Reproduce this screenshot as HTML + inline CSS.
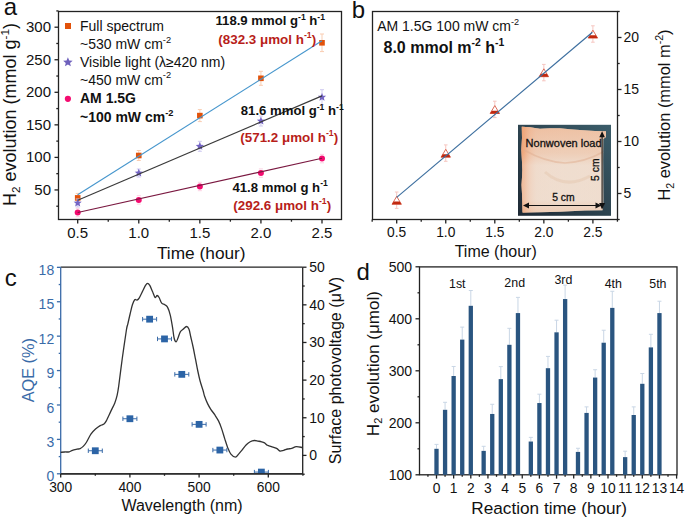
<!DOCTYPE html>
<html><head><meta charset="utf-8"><style>html,body{margin:0;padding:0;background:#fff;overflow:hidden;}svg{display:block;}text{font-family:'Liberation Sans', sans-serif;}</style></head>
<body><svg width="685" height="518" viewBox="0 0 685 518" style="font-family:'Liberation Sans', sans-serif">
<rect width="685" height="518" fill="#fff"/>
<defs>
<linearGradient id="bgd" x1="1" y1="0" x2="0" y2="1">
<stop offset="0" stop-color="#3b5d6a"/><stop offset="0.5" stop-color="#2d4450"/><stop offset="1" stop-color="#1e2934"/>
</linearGradient>
<linearGradient id="fab" x1="0" y1="0" x2="1" y2="0">
<stop offset="0" stop-color="#ec8a52" stop-opacity="1"/><stop offset="0.04" stop-color="#ef9a68" stop-opacity="0.9"/><stop offset="0.10" stop-color="#f0b08c" stop-opacity="0.55"/><stop offset="0.18" stop-color="#f0c8b0" stop-opacity="0.2"/><stop offset="0.6" stop-color="#f2dccd" stop-opacity="0.0"/><stop offset="0.93" stop-color="#f0d0bc" stop-opacity="0.15"/><stop offset="1" stop-color="#eec0a4" stop-opacity="0.4"/>
</linearGradient>
<linearGradient id="fab2" x1="0" y1="0" x2="0" y2="1">
<stop offset="0" stop-color="#efb08a" stop-opacity="0.6"/><stop offset="0.3" stop-color="#f0c0a2" stop-opacity="0.45"/><stop offset="0.45" stop-color="#f2e2d6" stop-opacity="0.5"/><stop offset="0.85" stop-color="#f1e2d6" stop-opacity="0.55"/><stop offset="1" stop-color="#eec4a8" stop-opacity="0.55"/>
</linearGradient>
</defs>
<rect x="58.5" y="11.5" width="283.0" height="208.0" fill="none" stroke="#222" stroke-width="1.3"/>
<line x1="54.5" y1="189.95" x2="58.5" y2="189.95" stroke="#222" stroke-width="1.3" />
<text x="51" y="194.95" font-size="15" text-anchor="end" font-weight="normal" fill="#111" >50</text>
<line x1="54.5" y1="157.4" x2="58.5" y2="157.4" stroke="#222" stroke-width="1.3" />
<text x="51" y="162.4" font-size="15" text-anchor="end" font-weight="normal" fill="#111" >100</text>
<line x1="54.5" y1="124.85" x2="58.5" y2="124.85" stroke="#222" stroke-width="1.3" />
<text x="51" y="129.85" font-size="15" text-anchor="end" font-weight="normal" fill="#111" >150</text>
<line x1="54.5" y1="92.3" x2="58.5" y2="92.3" stroke="#222" stroke-width="1.3" />
<text x="51" y="97.3" font-size="15" text-anchor="end" font-weight="normal" fill="#111" >200</text>
<line x1="54.5" y1="59.75" x2="58.5" y2="59.75" stroke="#222" stroke-width="1.3" />
<text x="51" y="64.75" font-size="15" text-anchor="end" font-weight="normal" fill="#111" >250</text>
<line x1="54.5" y1="27.2" x2="58.5" y2="27.2" stroke="#222" stroke-width="1.3" />
<text x="51" y="32.2" font-size="15" text-anchor="end" font-weight="normal" fill="#111" >300</text>
<line x1="56.3" y1="206.22" x2="58.5" y2="206.22" stroke="#222" stroke-width="1.3" />
<line x1="56.3" y1="173.67" x2="58.5" y2="173.67" stroke="#222" stroke-width="1.3" />
<line x1="56.3" y1="141.12" x2="58.5" y2="141.12" stroke="#222" stroke-width="1.3" />
<line x1="56.3" y1="108.58" x2="58.5" y2="108.58" stroke="#222" stroke-width="1.3" />
<line x1="56.3" y1="76.03" x2="58.5" y2="76.03" stroke="#222" stroke-width="1.3" />
<line x1="56.3" y1="43.48" x2="58.5" y2="43.48" stroke="#222" stroke-width="1.3" />
<line x1="56.3" y1="10.92" x2="58.5" y2="10.92" stroke="#222" stroke-width="1.3" />
<line x1="77.7" y1="219.5" x2="77.7" y2="223.5" stroke="#222" stroke-width="1.3" />
<text x="77.7" y="238" font-size="15" text-anchor="middle" font-weight="normal" fill="#111" >0.5</text>
<line x1="138.78" y1="219.5" x2="138.78" y2="223.5" stroke="#222" stroke-width="1.3" />
<text x="138.78" y="238" font-size="15" text-anchor="middle" font-weight="normal" fill="#111" >1.0</text>
<line x1="199.85" y1="219.5" x2="199.85" y2="223.5" stroke="#222" stroke-width="1.3" />
<text x="199.85" y="238" font-size="15" text-anchor="middle" font-weight="normal" fill="#111" >1.5</text>
<line x1="260.93" y1="219.5" x2="260.93" y2="223.5" stroke="#222" stroke-width="1.3" />
<text x="260.93" y="238" font-size="15" text-anchor="middle" font-weight="normal" fill="#111" >2.0</text>
<line x1="322" y1="219.5" x2="322" y2="223.5" stroke="#222" stroke-width="1.3" />
<text x="322" y="238" font-size="15" text-anchor="middle" font-weight="normal" fill="#111" >2.5</text>
<line x1="108.24" y1="219.5" x2="108.24" y2="221.7" stroke="#222" stroke-width="1.3" />
<line x1="169.31" y1="219.5" x2="169.31" y2="221.7" stroke="#222" stroke-width="1.3" />
<line x1="230.39" y1="219.5" x2="230.39" y2="221.7" stroke="#222" stroke-width="1.3" />
<line x1="291.46" y1="219.5" x2="291.46" y2="221.7" stroke="#222" stroke-width="1.3" />
<text x="201.3" y="258.6" font-size="17.3" text-anchor="middle" font-weight="normal" fill="#111" >Time (hour)</text>
<text transform="translate(16.2,206) rotate(-90)" font-size="18.0" text-anchor="start" font-weight="normal" fill="#111">H<tspan font-size="11.70" dy="3.96">2</tspan><tspan dy="-3.96"> evolution (mmol g</tspan><tspan font-size="11.70" dy="-7.56">-1</tspan><tspan dy="7.56">)</tspan></text>
<text x="3.8" y="15" font-size="24" text-anchor="start" font-weight="normal" fill="#111" >a</text>
<line x1="77.7" y1="193.4" x2="77.7" y2="202.4" stroke="#f9cdb2" stroke-width="1" />
<line x1="75.7" y1="193.4" x2="79.7" y2="193.4" stroke="#f9cdb2" stroke-width="1" />
<line x1="75.7" y1="202.4" x2="79.7" y2="202.4" stroke="#f9cdb2" stroke-width="1" />
<rect x="74.9" y="195.1" width="5.6" height="5.6" fill="#e2520a"/>
<line x1="138.78" y1="150.5" x2="138.78" y2="160.5" stroke="#f9cdb2" stroke-width="1" />
<line x1="136.78" y1="150.5" x2="140.78" y2="150.5" stroke="#f9cdb2" stroke-width="1" />
<line x1="136.78" y1="160.5" x2="140.78" y2="160.5" stroke="#f9cdb2" stroke-width="1" />
<rect x="135.97" y="152.7" width="5.6" height="5.6" fill="#e2520a"/>
<line x1="199.85" y1="109.6" x2="199.85" y2="121.6" stroke="#f9cdb2" stroke-width="1" />
<line x1="197.85" y1="109.6" x2="201.85" y2="109.6" stroke="#f9cdb2" stroke-width="1" />
<line x1="197.85" y1="121.6" x2="201.85" y2="121.6" stroke="#f9cdb2" stroke-width="1" />
<rect x="197.05" y="112.8" width="5.6" height="5.6" fill="#e2520a"/>
<line x1="260.93" y1="71.3" x2="260.93" y2="85.3" stroke="#f9cdb2" stroke-width="1" />
<line x1="258.93" y1="71.3" x2="262.93" y2="71.3" stroke="#f9cdb2" stroke-width="1" />
<line x1="258.93" y1="85.3" x2="262.93" y2="85.3" stroke="#f9cdb2" stroke-width="1" />
<rect x="258.12" y="75.5" width="5.6" height="5.6" fill="#e2520a"/>
<line x1="322" y1="34" x2="322" y2="51.6" stroke="#f9cdb2" stroke-width="1" />
<line x1="320" y1="34" x2="324" y2="34" stroke="#f9cdb2" stroke-width="1" />
<line x1="320" y1="51.6" x2="324" y2="51.6" stroke="#f9cdb2" stroke-width="1" />
<rect x="319.2" y="40" width="5.6" height="5.6" fill="#e2520a"/>
<line x1="77.7" y1="199" x2="77.7" y2="207" stroke="#cfcaf0" stroke-width="1" />
<line x1="75.7" y1="199" x2="79.7" y2="199" stroke="#cfcaf0" stroke-width="1" />
<line x1="75.7" y1="207" x2="79.7" y2="207" stroke="#cfcaf0" stroke-width="1" />
<polygon points="77.70,198.70 78.84,201.43 81.79,201.67 79.54,203.60 80.23,206.48 77.70,204.94 75.17,206.48 75.86,203.60 73.61,201.67 76.56,201.43" fill="#7464c4"/>
<line x1="138.78" y1="169" x2="138.78" y2="177" stroke="#cfcaf0" stroke-width="1" />
<line x1="136.78" y1="169" x2="140.78" y2="169" stroke="#cfcaf0" stroke-width="1" />
<line x1="136.78" y1="177" x2="140.78" y2="177" stroke="#cfcaf0" stroke-width="1" />
<polygon points="138.78,168.70 139.91,171.43 142.86,171.67 140.62,173.60 141.30,176.48 138.78,174.94 136.25,176.48 136.93,173.60 134.69,171.67 137.64,171.43" fill="#7464c4"/>
<line x1="199.85" y1="141.3" x2="199.85" y2="151.3" stroke="#cfcaf0" stroke-width="1" />
<line x1="197.85" y1="141.3" x2="201.85" y2="141.3" stroke="#cfcaf0" stroke-width="1" />
<line x1="197.85" y1="151.3" x2="201.85" y2="151.3" stroke="#cfcaf0" stroke-width="1" />
<polygon points="199.85,142.00 200.99,144.73 203.94,144.97 201.69,146.90 202.38,149.78 199.85,148.24 197.32,149.78 198.01,146.90 195.76,144.97 198.71,144.73" fill="#7464c4"/>
<line x1="260.93" y1="116" x2="260.93" y2="126" stroke="#cfcaf0" stroke-width="1" />
<line x1="258.93" y1="116" x2="262.93" y2="116" stroke="#cfcaf0" stroke-width="1" />
<line x1="258.93" y1="126" x2="262.93" y2="126" stroke="#cfcaf0" stroke-width="1" />
<polygon points="260.93,116.70 262.06,119.43 265.01,119.67 262.77,121.60 263.45,124.48 260.93,122.94 258.40,124.48 259.08,121.60 256.84,119.67 259.79,119.43" fill="#7464c4"/>
<line x1="322" y1="89.7" x2="322" y2="104.7" stroke="#cfcaf0" stroke-width="1" />
<line x1="320" y1="89.7" x2="324" y2="89.7" stroke="#cfcaf0" stroke-width="1" />
<line x1="320" y1="104.7" x2="324" y2="104.7" stroke="#cfcaf0" stroke-width="1" />
<polygon points="322.00,92.90 323.14,95.63 326.09,95.87 323.84,97.80 324.53,100.68 322.00,99.14 319.47,100.68 320.16,97.80 317.91,95.87 320.86,95.63" fill="#7464c4"/>
<line x1="75.7" y1="208.3" x2="79.7" y2="208.3" stroke="#fbc4da" stroke-width="0.8" />
<line x1="75.7" y1="216.7" x2="79.7" y2="216.7" stroke="#fbc4da" stroke-width="0.8" />
<circle cx="77.7" cy="212.5" r="3.0" fill="#f40c70"/>
<line x1="136.78" y1="195.7" x2="140.78" y2="195.7" stroke="#fbc4da" stroke-width="0.8" />
<line x1="136.78" y1="204.1" x2="140.78" y2="204.1" stroke="#fbc4da" stroke-width="0.8" />
<circle cx="138.78" cy="199.9" r="3.0" fill="#f40c70"/>
<line x1="197.85" y1="182.3" x2="201.85" y2="182.3" stroke="#fbc4da" stroke-width="0.8" />
<line x1="197.85" y1="190.7" x2="201.85" y2="190.7" stroke="#fbc4da" stroke-width="0.8" />
<circle cx="199.85" cy="186.5" r="3.0" fill="#f40c70"/>
<line x1="258.93" y1="168.9" x2="262.93" y2="168.9" stroke="#fbc4da" stroke-width="0.8" />
<line x1="258.93" y1="177.3" x2="262.93" y2="177.3" stroke="#fbc4da" stroke-width="0.8" />
<circle cx="260.93" cy="173.1" r="3.0" fill="#f40c70"/>
<line x1="320" y1="154.4" x2="324" y2="154.4" stroke="#fbc4da" stroke-width="0.8" />
<line x1="320" y1="162.8" x2="324" y2="162.8" stroke="#fbc4da" stroke-width="0.8" />
<circle cx="322" cy="158.6" r="3.0" fill="#f40c70"/>
<line x1="77.7" y1="194.8" x2="322.0" y2="40.7" stroke="#4696cd" stroke-width="1.15"/>
<line x1="77.7" y1="200.2" x2="322.0" y2="95.9" stroke="#3a3a3a" stroke-width="1.15"/>
<line x1="77.7" y1="212.5" x2="322.0" y2="158.3" stroke="#7a1840" stroke-width="1.15"/>
<rect x="65" y="23" width="6" height="6" fill="#e2520a"/>
<polygon points="67.90,57.20 69.22,60.38 72.66,60.65 70.04,62.90 70.84,66.25 67.90,64.45 64.96,66.25 65.76,62.90 63.14,60.65 66.58,60.38" fill="#6e60bc"/>
<circle cx="67.9" cy="98.8" r="3.1" fill="#f40c70"/>
<text x="80" y="30.7" font-size="14" text-anchor="start" font-weight="normal" fill="#111" >Full spectrum</text>
<text x="80" y="49.4" font-size="14" text-anchor="start" font-weight="normal" fill="#111" >~530 mW cm<tspan font-size="9.24" dy="-6.72">-2</tspan></text>
<text x="80" y="66.8" font-size="14" text-anchor="start" font-weight="normal" fill="#111" >Visible light (λ≥420 nm)</text>
<text x="80" y="85.2" font-size="14" text-anchor="start" font-weight="normal" fill="#111" >~450 mW cm<tspan font-size="9.24" dy="-6.72">-2</tspan></text>
<text x="80" y="103.3" font-size="14" text-anchor="start" font-weight="bold" fill="#111" >AM 1.5G</text>
<text x="80" y="122.4" font-size="14" text-anchor="start" font-weight="bold" fill="#111" >~100 mW cm<tspan font-size="9.24" dy="-6.72">-2</tspan></text>
<text x="215.5" y="25.4" font-size="13.15" text-anchor="start" font-weight="bold" fill="#111" >118.9 mmol g<tspan font-size="8.55" dy="-5.52">-1</tspan><tspan dy="5.52"> h</tspan><tspan font-size="8.55" dy="-5.52">-1</tspan></text>
<text x="218.3" y="43.6" font-size="13.4" text-anchor="start" font-weight="bold" fill="#b81e1a" >(832.3 μmol h<tspan font-size="8.71" dy="-5.63">-1</tspan><tspan dy="5.63">)</tspan></text>
<text x="240.8" y="115.4" font-size="13.15" text-anchor="start" font-weight="bold" fill="#111" >81.6 mmol g<tspan font-size="8.55" dy="-5.52">-1</tspan><tspan dy="5.52"> h</tspan><tspan font-size="8.55" dy="-5.52">-1</tspan></text>
<text x="240.3" y="141.5" font-size="13.4" text-anchor="start" font-weight="bold" fill="#b81e1a" >(571.2 μmol h<tspan font-size="8.71" dy="-5.63">-1</tspan><tspan dy="5.63">)</tspan></text>
<text x="232.5" y="191.6" font-size="13.15" text-anchor="start" font-weight="bold" fill="#111" >41.8 mmol g h<tspan font-size="8.55" dy="-5.52">-1</tspan></text>
<text x="233.3" y="209.9" font-size="13.4" text-anchor="start" font-weight="bold" fill="#b81e1a" >(292.6 μmol h<tspan font-size="8.71" dy="-5.63">-1</tspan><tspan dy="5.63">)</tspan></text>
<rect x="372.5" y="11.5" width="245.0" height="208.0" fill="none" stroke="#222" stroke-width="1.3"/>
<line x1="396.7" y1="219.5" x2="396.7" y2="223.5" stroke="#222" stroke-width="1.3" />
<text x="396.7" y="236.6" font-size="13.8" text-anchor="middle" font-weight="normal" fill="#111" >0.5</text>
<line x1="445.75" y1="219.5" x2="445.75" y2="223.5" stroke="#222" stroke-width="1.3" />
<text x="445.75" y="236.6" font-size="13.8" text-anchor="middle" font-weight="normal" fill="#111" >1.0</text>
<line x1="494.8" y1="219.5" x2="494.8" y2="223.5" stroke="#222" stroke-width="1.3" />
<text x="494.8" y="236.6" font-size="13.8" text-anchor="middle" font-weight="normal" fill="#111" >1.5</text>
<line x1="543.85" y1="219.5" x2="543.85" y2="223.5" stroke="#222" stroke-width="1.3" />
<text x="543.85" y="236.6" font-size="13.8" text-anchor="middle" font-weight="normal" fill="#111" >2.0</text>
<line x1="592.9" y1="219.5" x2="592.9" y2="223.5" stroke="#222" stroke-width="1.3" />
<text x="592.9" y="236.6" font-size="13.8" text-anchor="middle" font-weight="normal" fill="#111" >2.5</text>
<line x1="372.18" y1="219.5" x2="372.18" y2="221.7" stroke="#222" stroke-width="1.3" />
<line x1="421.22" y1="219.5" x2="421.22" y2="221.7" stroke="#222" stroke-width="1.3" />
<line x1="470.27" y1="219.5" x2="470.27" y2="221.7" stroke="#222" stroke-width="1.3" />
<line x1="519.33" y1="219.5" x2="519.33" y2="221.7" stroke="#222" stroke-width="1.3" />
<line x1="568.38" y1="219.5" x2="568.38" y2="221.7" stroke="#222" stroke-width="1.3" />
<line x1="617.42" y1="219.5" x2="617.42" y2="221.7" stroke="#222" stroke-width="1.3" />
<line x1="617.5" y1="193.5" x2="621.5" y2="193.5" stroke="#222" stroke-width="1.3" />
<text x="623.5" y="197.9" font-size="14" text-anchor="start" font-weight="normal" fill="#111" >5</text>
<line x1="617.5" y1="141.5" x2="621.5" y2="141.5" stroke="#222" stroke-width="1.3" />
<text x="623.5" y="145.9" font-size="14" text-anchor="start" font-weight="normal" fill="#111" >10</text>
<line x1="617.5" y1="89.5" x2="621.5" y2="89.5" stroke="#222" stroke-width="1.3" />
<text x="623.5" y="93.9" font-size="14" text-anchor="start" font-weight="normal" fill="#111" >15</text>
<line x1="617.5" y1="37.5" x2="621.5" y2="37.5" stroke="#222" stroke-width="1.3" />
<text x="623.5" y="41.9" font-size="14" text-anchor="start" font-weight="normal" fill="#111" >20</text>
<line x1="617.5" y1="219.5" x2="619.7" y2="219.5" stroke="#222" stroke-width="1.3" />
<line x1="617.5" y1="167.5" x2="619.7" y2="167.5" stroke="#222" stroke-width="1.3" />
<line x1="617.5" y1="115.5" x2="619.7" y2="115.5" stroke="#222" stroke-width="1.3" />
<line x1="617.5" y1="63.5" x2="619.7" y2="63.5" stroke="#222" stroke-width="1.3" />
<line x1="617.5" y1="11.5" x2="619.7" y2="11.5" stroke="#222" stroke-width="1.3" />
<text x="495.7" y="256.9" font-size="16" text-anchor="middle" font-weight="normal" fill="#111" >Time (hour)</text>
<text transform="translate(669.9,200.6) rotate(-90)" font-size="16.4" text-anchor="start" font-weight="normal" fill="#111">H<tspan font-size="10.66" dy="3.61">2</tspan><tspan dy="-3.61"> evolution (mmol m</tspan><tspan font-size="10.66" dy="-6.89">-2</tspan><tspan dy="6.89">)</tspan></text>
<text x="351.8" y="17.7" font-size="24" text-anchor="start" font-weight="normal" fill="#111" >b</text>
<text x="377.2" y="31" font-size="14" text-anchor="start" font-weight="normal" fill="#111" >AM 1.5G 100 mW cm<tspan font-size="9.10" dy="-5.88">-2</tspan></text>
<text x="383.5" y="52.7" font-size="16" text-anchor="start" font-weight="bold" fill="#111" >8.0 mmol m<tspan font-size="10.40" dy="-6.72">-2</tspan><tspan dy="6.72"> h</tspan><tspan font-size="10.40" dy="-6.72">-1</tspan></text>
<g>
<rect x="518" y="124.8" width="93" height="91" fill="url(#bgd)"/>
<path d="M521.8,126.8 L530,127.3 L540,128.8 L550,128.3 L560,128.2 L570,129.2 L580,129.9 L595,131.1 L606,131.3 L606,137 L603.2,139 L603.1,160 L603.2,185 L603.3,205 L602.5,210.3 L585,210.6 L560,211.8 L540,212.3 L522.6,212.5 L522.3,200 L521.6,185 L522.4,170 L521.4,150 L522,138 Z" fill="#ecd8c7"/>
<path d="M521.8,126.8 L530,127.3 L540,128.8 L550,128.3 L560,128.2 L570,129.2 L580,129.9 L595,131.1 L606,131.3 L606,137 L603.2,139 L603.1,160 L603.2,185 L603.3,205 L602.5,210.3 L585,210.6 L560,211.8 L540,212.3 L522.6,212.5 L522.3,200 L521.6,185 L522.4,170 L521.4,150 L522,138 Z" fill="url(#fab)"/>
<path d="M521.8,126.8 L530,127.3 L540,128.8 L550,128.3 L560,128.2 L570,129.2 L580,129.9 L595,131.1 L606,131.3 L606,137 L603.2,139 L603.1,160 L603.2,185 L603.3,205 L602.5,210.3 L585,210.6 L560,211.8 L540,212.3 L522.6,212.5 L522.3,200 L521.6,185 L522.4,170 L521.4,150 L522,138 Z" fill="url(#fab2)"/>
<path d="M524,150 Q545,162 565,163 Q585,162 603,152" stroke="#dfae90" stroke-width="1.6" fill="none" opacity="0.5"/>
<path d="M545,172 Q565,190 590,176" stroke="#deb89c" stroke-width="3" fill="none" opacity="0.3"/>
</g>
<text x="525.6" y="146.7" font-size="10.8" textLength="76" lengthAdjust="spacingAndGlyphs" fill="#111" stroke="#111" stroke-width="0.3">Nonwoven load</text>
<text x="552.2" y="201.4" font-size="10.2" textLength="22.4" lengthAdjust="spacingAndGlyphs" fill="#111" stroke="#111" stroke-width="0.3">5 cm</text>
<text transform="translate(599.4,180.9) rotate(-90)" font-size="10.2" textLength="22.4" lengthAdjust="spacingAndGlyphs" fill="#111" stroke="#111" stroke-width="0.3">5 cm</text>
<line x1="528" y1="205.5" x2="597" y2="205.5" stroke="#111" stroke-width="1.1" />
<line x1="602.1" y1="135" x2="602.1" y2="204" stroke="#111" stroke-width="1.1" />
<path d="M523,205.6 l6,-3 v6 z" fill="#111"/>
<path d="M601.5,205.6 l-6,-3 v6 z" fill="#111"/>
<path d="M602.1,131.2 l-2.8,6 h5.6 z" fill="#111"/>
<path d="M602.1,209.6 l-3,-6.5 h6 z" fill="#111"/>
<line x1="396.7" y1="192" x2="396.7" y2="208.4" stroke="#f6c6c0" stroke-width="1" />
<line x1="394.9" y1="192" x2="398.5" y2="192" stroke="#f6c6c0" stroke-width="1" />
<line x1="394.9" y1="208.4" x2="398.5" y2="208.4" stroke="#f6c6c0" stroke-width="1" />
<path d="M396.7,196.4 L401.4,204.3 L392,204.3 Z" fill="#fff" stroke="#d75a46" stroke-width="0.9"/>
<path d="M393.69,201.46 L399.71,201.46 L401.4,204.3 L392,204.3 Z" fill="#c2280e"/>
<line x1="445.75" y1="144.9" x2="445.75" y2="161.3" stroke="#f6c6c0" stroke-width="1" />
<line x1="443.95" y1="144.9" x2="447.55" y2="144.9" stroke="#f6c6c0" stroke-width="1" />
<line x1="443.95" y1="161.3" x2="447.55" y2="161.3" stroke="#f6c6c0" stroke-width="1" />
<path d="M445.75,149.3 L450.45,157.2 L441.05,157.2 Z" fill="#fff" stroke="#d75a46" stroke-width="0.9"/>
<path d="M442.74,154.36 L448.76,154.36 L450.45,157.2 L441.05,157.2 Z" fill="#c2280e"/>
<line x1="494.8" y1="101.2" x2="494.8" y2="117.6" stroke="#f6c6c0" stroke-width="1" />
<line x1="493" y1="101.2" x2="496.6" y2="101.2" stroke="#f6c6c0" stroke-width="1" />
<line x1="493" y1="117.6" x2="496.6" y2="117.6" stroke="#f6c6c0" stroke-width="1" />
<path d="M494.8,105.6 L499.5,113.5 L490.1,113.5 Z" fill="#fff" stroke="#d75a46" stroke-width="0.9"/>
<path d="M491.79,110.66 L497.81,110.66 L499.5,113.5 L490.1,113.5 Z" fill="#c2280e"/>
<line x1="543.85" y1="64.4" x2="543.85" y2="80.8" stroke="#f6c6c0" stroke-width="1" />
<line x1="542.05" y1="64.4" x2="545.65" y2="64.4" stroke="#f6c6c0" stroke-width="1" />
<line x1="542.05" y1="80.8" x2="545.65" y2="80.8" stroke="#f6c6c0" stroke-width="1" />
<path d="M543.85,68.8 L548.55,76.7 L539.15,76.7 Z" fill="#fff" stroke="#d75a46" stroke-width="0.9"/>
<path d="M540.84,73.86 L546.86,73.86 L548.55,76.7 L539.15,76.7 Z" fill="#c2280e"/>
<line x1="592.9" y1="25.8" x2="592.9" y2="42.2" stroke="#f6c6c0" stroke-width="1" />
<line x1="591.1" y1="25.8" x2="594.7" y2="25.8" stroke="#f6c6c0" stroke-width="1" />
<line x1="591.1" y1="42.2" x2="594.7" y2="42.2" stroke="#f6c6c0" stroke-width="1" />
<path d="M592.9,30.2 L597.6,38.1 L588.2,38.1 Z" fill="#fff" stroke="#d75a46" stroke-width="0.9"/>
<path d="M589.89,35.26 L595.91,35.26 L597.6,38.1 L588.2,38.1 Z" fill="#c2280e"/>
<line x1="396.7" y1="197.4" x2="592.4" y2="32.2" stroke="#3d6f9f" stroke-width="1.2"/>
<line x1="60.7" y1="267.2" x2="302.7" y2="267.2" stroke="#222" stroke-width="1.3" />
<line x1="60.7" y1="473.8" x2="302.7" y2="473.8" stroke="#222" stroke-width="1.3" />
<line x1="302.7" y1="267.2" x2="302.7" y2="473.8" stroke="#222" stroke-width="1.3" />
<line x1="60.7" y1="267.2" x2="60.7" y2="473.8" stroke="#3a6ba8" stroke-width="1.3" />
<line x1="56.9" y1="473.8" x2="60.7" y2="473.8" stroke="#3a6ba8" stroke-width="1.3" />
<text x="54.2" y="481.4" font-size="14" text-anchor="end" font-weight="normal" fill="#3a6ba8" >0</text>
<line x1="56.9" y1="439.39" x2="60.7" y2="439.39" stroke="#3a6ba8" stroke-width="1.3" />
<text x="54.2" y="446.99" font-size="14" text-anchor="end" font-weight="normal" fill="#3a6ba8" >3</text>
<line x1="56.9" y1="404.98" x2="60.7" y2="404.98" stroke="#3a6ba8" stroke-width="1.3" />
<text x="54.2" y="412.58" font-size="14" text-anchor="end" font-weight="normal" fill="#3a6ba8" >6</text>
<line x1="56.9" y1="370.57" x2="60.7" y2="370.57" stroke="#3a6ba8" stroke-width="1.3" />
<text x="54.2" y="378.17" font-size="14" text-anchor="end" font-weight="normal" fill="#3a6ba8" >9</text>
<line x1="56.9" y1="336.16" x2="60.7" y2="336.16" stroke="#3a6ba8" stroke-width="1.3" />
<text x="54.2" y="343.76" font-size="14" text-anchor="end" font-weight="normal" fill="#3a6ba8" >12</text>
<line x1="56.9" y1="301.75" x2="60.7" y2="301.75" stroke="#3a6ba8" stroke-width="1.3" />
<text x="54.2" y="309.35" font-size="14" text-anchor="end" font-weight="normal" fill="#3a6ba8" >15</text>
<line x1="56.9" y1="267.34" x2="60.7" y2="267.34" stroke="#3a6ba8" stroke-width="1.3" />
<text x="54.2" y="274.94" font-size="14" text-anchor="end" font-weight="normal" fill="#3a6ba8" >18</text>
<line x1="58.7" y1="456.6" x2="60.7" y2="456.6" stroke="#3a6ba8" stroke-width="1.3" />
<line x1="58.7" y1="422.19" x2="60.7" y2="422.19" stroke="#3a6ba8" stroke-width="1.3" />
<line x1="58.7" y1="387.77" x2="60.7" y2="387.77" stroke="#3a6ba8" stroke-width="1.3" />
<line x1="58.7" y1="353.37" x2="60.7" y2="353.37" stroke="#3a6ba8" stroke-width="1.3" />
<line x1="58.7" y1="318.96" x2="60.7" y2="318.96" stroke="#3a6ba8" stroke-width="1.3" />
<line x1="58.7" y1="284.54" x2="60.7" y2="284.54" stroke="#3a6ba8" stroke-width="1.3" />
<line x1="302.7" y1="455.4" x2="306.5" y2="455.4" stroke="#222" stroke-width="1.3" />
<text x="309.3" y="460.4" font-size="14" text-anchor="start" font-weight="normal" fill="#111" >0</text>
<line x1="302.7" y1="417.76" x2="306.5" y2="417.76" stroke="#222" stroke-width="1.3" />
<text x="309.3" y="422.76" font-size="14" text-anchor="start" font-weight="normal" fill="#111" >10</text>
<line x1="302.7" y1="380.12" x2="306.5" y2="380.12" stroke="#222" stroke-width="1.3" />
<text x="309.3" y="385.12" font-size="14" text-anchor="start" font-weight="normal" fill="#111" >20</text>
<line x1="302.7" y1="342.48" x2="306.5" y2="342.48" stroke="#222" stroke-width="1.3" />
<text x="309.3" y="347.48" font-size="14" text-anchor="start" font-weight="normal" fill="#111" >30</text>
<line x1="302.7" y1="304.84" x2="306.5" y2="304.84" stroke="#222" stroke-width="1.3" />
<text x="309.3" y="309.84" font-size="14" text-anchor="start" font-weight="normal" fill="#111" >40</text>
<line x1="302.7" y1="267.2" x2="306.5" y2="267.2" stroke="#222" stroke-width="1.3" />
<text x="309.3" y="272.2" font-size="14" text-anchor="start" font-weight="normal" fill="#111" >50</text>
<line x1="302.7" y1="474.22" x2="304.7" y2="474.22" stroke="#222" stroke-width="1.3" />
<line x1="302.7" y1="436.58" x2="304.7" y2="436.58" stroke="#222" stroke-width="1.3" />
<line x1="302.7" y1="398.94" x2="304.7" y2="398.94" stroke="#222" stroke-width="1.3" />
<line x1="302.7" y1="361.3" x2="304.7" y2="361.3" stroke="#222" stroke-width="1.3" />
<line x1="302.7" y1="323.66" x2="304.7" y2="323.66" stroke="#222" stroke-width="1.3" />
<line x1="302.7" y1="286.02" x2="304.7" y2="286.02" stroke="#222" stroke-width="1.3" />
<line x1="60.7" y1="473.8" x2="60.7" y2="477.6" stroke="#222" stroke-width="1.3" />
<text x="60.7" y="491.6" font-size="13.8" text-anchor="middle" font-weight="normal" fill="#111" >300</text>
<line x1="129.9" y1="473.8" x2="129.9" y2="477.6" stroke="#222" stroke-width="1.3" />
<text x="129.9" y="491.6" font-size="13.8" text-anchor="middle" font-weight="normal" fill="#111" >400</text>
<line x1="199.1" y1="473.8" x2="199.1" y2="477.6" stroke="#222" stroke-width="1.3" />
<text x="199.1" y="491.6" font-size="13.8" text-anchor="middle" font-weight="normal" fill="#111" >500</text>
<line x1="268.3" y1="473.8" x2="268.3" y2="477.6" stroke="#222" stroke-width="1.3" />
<text x="268.3" y="491.6" font-size="13.8" text-anchor="middle" font-weight="normal" fill="#111" >600</text>
<line x1="95.3" y1="473.8" x2="95.3" y2="475.8" stroke="#222" stroke-width="1.3" />
<line x1="164.5" y1="473.8" x2="164.5" y2="475.8" stroke="#222" stroke-width="1.3" />
<line x1="233.7" y1="473.8" x2="233.7" y2="475.8" stroke="#222" stroke-width="1.3" />
<line x1="302.9" y1="473.8" x2="302.9" y2="475.8" stroke="#222" stroke-width="1.3" />
<text x="182" y="510.5" font-size="16" text-anchor="middle" font-weight="normal" fill="#111" >Wavelength (nm)</text>
<text transform="translate(33.8,402.3) rotate(-90)" font-size="16.3" text-anchor="start" font-weight="normal" fill="#3a6ba8">AQE (%)</text>
<text transform="translate(341.4,464.3) rotate(-90)" font-size="16.1" text-anchor="start" font-weight="normal" fill="#111">Surface photovoltage (μV)</text>
<text x="4.8" y="286" font-size="24" text-anchor="start" font-weight="normal" fill="#111" >c</text>
<path d="M60.70,452.30 C61.35,452.25 63.17,452.08 64.60,452.00 C66.03,451.92 68.00,452.08 69.30,451.80 C70.60,451.52 71.12,450.73 72.40,450.30 C73.68,449.87 75.72,449.48 77.00,449.20 C78.28,448.92 79.07,449.07 80.10,448.60 C81.13,448.13 82.17,447.42 83.20,446.40 C84.23,445.38 85.02,444.55 86.30,442.50 C87.58,440.45 89.37,436.33 90.90,434.10 C92.43,431.87 93.95,430.52 95.50,429.10 C97.05,427.68 98.78,426.45 100.20,425.60 C101.62,424.75 102.98,424.78 104.00,424.00 C105.02,423.22 105.13,423.08 106.30,420.90 C107.47,418.72 109.58,413.90 111.00,410.90 C112.42,407.90 113.78,405.48 114.80,402.90 C115.82,400.32 116.45,398.18 117.10,395.40 C117.75,392.62 117.85,392.27 118.70,386.20 C119.55,380.13 120.92,368.37 122.20,359.00 C123.48,349.63 125.47,335.82 126.40,330.00 C127.33,324.18 127.18,326.77 127.80,324.10 C128.42,321.43 129.33,317.23 130.10,314.00 C130.87,310.77 131.63,307.08 132.40,304.70 C133.17,302.32 133.93,300.47 134.70,299.70 C135.47,298.93 136.23,300.42 137.00,300.10 C137.77,299.78 138.40,299.22 139.30,297.80 C140.20,296.38 141.37,293.67 142.40,291.60 C143.43,289.53 144.65,286.78 145.50,285.40 C146.35,284.02 146.78,283.30 147.50,283.30 C148.22,283.30 148.97,284.02 149.80,285.40 C150.63,286.78 151.62,289.58 152.50,291.60 C153.38,293.62 154.33,296.85 155.10,297.50 C155.87,298.15 156.43,295.50 157.10,295.50 C157.77,295.50 158.33,296.22 159.10,297.50 C159.87,298.78 160.75,302.00 161.70,303.20 C162.65,304.40 163.83,304.05 164.80,304.70 C165.77,305.35 166.60,305.42 167.50,307.10 C168.40,308.78 169.37,311.47 170.20,314.80 C171.03,318.13 171.85,323.23 172.50,327.10 C173.15,330.97 173.50,335.55 174.10,338.00 C174.70,340.45 175.45,341.80 176.10,341.80 C176.75,341.80 177.30,339.67 178.00,338.00 C178.70,336.33 179.45,333.25 180.30,331.80 C181.15,330.35 182.07,330.18 183.10,329.30 C184.13,328.42 185.52,326.50 186.50,326.50 C187.48,326.50 188.28,327.55 189.00,329.30 C189.72,331.05 190.12,334.05 190.80,337.00 C191.48,339.95 192.33,343.40 193.10,347.00 C193.87,350.60 194.62,354.60 195.40,358.60 C196.18,362.60 197.02,367.27 197.80,371.00 C198.58,374.73 199.20,377.67 200.10,381.00 C201.00,384.33 202.45,388.47 203.20,391.00 C203.95,393.53 203.85,394.05 204.60,396.20 C205.35,398.35 206.67,401.72 207.70,403.90 C208.73,406.08 209.63,407.50 210.80,409.30 C211.97,411.10 213.42,412.77 214.70,414.70 C215.98,416.63 217.35,418.58 218.50,420.90 C219.65,423.22 220.57,425.65 221.60,428.60 C222.63,431.55 223.67,435.38 224.70,438.60 C225.73,441.82 226.77,445.32 227.80,447.90 C228.83,450.48 229.62,452.55 230.90,454.10 C232.18,455.65 234.22,457.20 235.50,457.20 C236.78,457.20 237.43,455.38 238.60,454.10 C239.77,452.82 241.22,451.05 242.50,449.50 C243.78,447.95 245.02,446.10 246.30,444.80 C247.58,443.50 248.85,442.42 250.20,441.70 C251.55,440.98 253.08,440.60 254.40,440.50 C255.72,440.40 256.90,440.88 258.10,441.10 C259.30,441.32 260.53,441.50 261.60,441.80 C262.67,442.10 263.53,442.32 264.50,442.90 C265.47,443.48 266.25,444.68 267.40,445.30 C268.55,445.92 269.87,446.08 271.40,446.60 C272.93,447.12 275.18,447.67 276.60,448.40 C278.02,449.13 278.73,450.68 279.90,451.00 C281.07,451.32 282.32,450.63 283.60,450.30 C284.88,449.97 286.25,449.32 287.60,449.00 C288.95,448.68 290.25,448.80 291.70,448.40 C293.15,448.00 294.55,446.75 296.30,446.60 C298.05,446.45 301.22,447.35 302.20,447.50" fill="none" stroke="#333" stroke-width="1.3" stroke-linejoin="round"/>
<clipPath id="cclip"><rect x="60" y="267" width="243" height="206.8"/></clipPath><g clip-path="url(#cclip)">
<line x1="88.3" y1="450.75" x2="102.3" y2="450.75" stroke="#3a6ba8" stroke-width="1" />
<line x1="88.3" y1="448.55" x2="88.3" y2="452.95" stroke="#3a6ba8" stroke-width="1" />
<line x1="102.3" y1="448.55" x2="102.3" y2="452.95" stroke="#3a6ba8" stroke-width="1" />
<rect x="91.9" y="447.35" width="6.8" height="6.8" fill="#2c64a6"/>
<line x1="122.9" y1="418.74" x2="136.9" y2="418.74" stroke="#3a6ba8" stroke-width="1" />
<line x1="122.9" y1="416.54" x2="122.9" y2="420.94" stroke="#3a6ba8" stroke-width="1" />
<line x1="136.9" y1="416.54" x2="136.9" y2="420.94" stroke="#3a6ba8" stroke-width="1" />
<rect x="126.5" y="415.34" width="6.8" height="6.8" fill="#2c64a6"/>
<line x1="142.62" y1="319.18" x2="156.62" y2="319.18" stroke="#3a6ba8" stroke-width="1" />
<line x1="142.62" y1="316.98" x2="142.62" y2="321.38" stroke="#3a6ba8" stroke-width="1" />
<line x1="156.62" y1="316.98" x2="156.62" y2="321.38" stroke="#3a6ba8" stroke-width="1" />
<rect x="146.22" y="315.78" width="6.8" height="6.8" fill="#2c64a6"/>
<line x1="157.5" y1="338.91" x2="171.5" y2="338.91" stroke="#3a6ba8" stroke-width="1" />
<line x1="157.5" y1="336.71" x2="157.5" y2="341.11" stroke="#3a6ba8" stroke-width="1" />
<line x1="171.5" y1="336.71" x2="171.5" y2="341.11" stroke="#3a6ba8" stroke-width="1" />
<rect x="161.1" y="335.51" width="6.8" height="6.8" fill="#2c64a6"/>
<line x1="174.8" y1="374.36" x2="188.8" y2="374.36" stroke="#3a6ba8" stroke-width="1" />
<line x1="174.8" y1="372.16" x2="174.8" y2="376.56" stroke="#3a6ba8" stroke-width="1" />
<line x1="188.8" y1="372.16" x2="188.8" y2="376.56" stroke="#3a6ba8" stroke-width="1" />
<rect x="178.4" y="370.96" width="6.8" height="6.8" fill="#2c64a6"/>
<line x1="192.1" y1="424.36" x2="206.1" y2="424.36" stroke="#3a6ba8" stroke-width="1" />
<line x1="192.1" y1="422.16" x2="192.1" y2="426.56" stroke="#3a6ba8" stroke-width="1" />
<line x1="206.1" y1="422.16" x2="206.1" y2="426.56" stroke="#3a6ba8" stroke-width="1" />
<rect x="195.7" y="420.96" width="6.8" height="6.8" fill="#2c64a6"/>
<line x1="212.86" y1="450.06" x2="226.86" y2="450.06" stroke="#3a6ba8" stroke-width="1" />
<line x1="212.86" y1="447.86" x2="212.86" y2="452.26" stroke="#3a6ba8" stroke-width="1" />
<line x1="226.86" y1="447.86" x2="226.86" y2="452.26" stroke="#3a6ba8" stroke-width="1" />
<rect x="216.46" y="446.66" width="6.8" height="6.8" fill="#2c64a6"/>
<line x1="254.38" y1="472.08" x2="268.38" y2="472.08" stroke="#3a6ba8" stroke-width="1" />
<line x1="254.38" y1="469.88" x2="254.38" y2="474.28" stroke="#3a6ba8" stroke-width="1" />
<line x1="268.38" y1="469.88" x2="268.38" y2="474.28" stroke="#3a6ba8" stroke-width="1" />
<rect x="257.98" y="468.68" width="6.8" height="6.8" fill="#2c64a6"/>
</g>
<line x1="60.7" y1="473.8" x2="302.7" y2="473.8" stroke="#222" stroke-width="1.3" />
<rect x="419.5" y="266.9" width="257.5" height="207.90000000000003" fill="none" stroke="#222" stroke-width="1.3"/>
<line x1="415.5" y1="474.8" x2="419.5" y2="474.8" stroke="#222" stroke-width="1.3" />
<text x="412" y="479.8" font-size="14" text-anchor="end" font-weight="normal" fill="#111" >100</text>
<line x1="415.5" y1="422.8" x2="419.5" y2="422.8" stroke="#222" stroke-width="1.3" />
<text x="412" y="427.8" font-size="14" text-anchor="end" font-weight="normal" fill="#111" >200</text>
<line x1="415.5" y1="370.8" x2="419.5" y2="370.8" stroke="#222" stroke-width="1.3" />
<text x="412" y="375.8" font-size="14" text-anchor="end" font-weight="normal" fill="#111" >300</text>
<line x1="415.5" y1="318.8" x2="419.5" y2="318.8" stroke="#222" stroke-width="1.3" />
<text x="412" y="323.8" font-size="14" text-anchor="end" font-weight="normal" fill="#111" >400</text>
<line x1="415.5" y1="266.8" x2="419.5" y2="266.8" stroke="#222" stroke-width="1.3" />
<text x="412" y="271.8" font-size="14" text-anchor="end" font-weight="normal" fill="#111" >500</text>
<line x1="417.5" y1="448.8" x2="419.5" y2="448.8" stroke="#222" stroke-width="1.3" />
<line x1="417.5" y1="396.8" x2="419.5" y2="396.8" stroke="#222" stroke-width="1.3" />
<line x1="417.5" y1="344.8" x2="419.5" y2="344.8" stroke="#222" stroke-width="1.3" />
<line x1="417.5" y1="292.8" x2="419.5" y2="292.8" stroke="#222" stroke-width="1.3" />
<line x1="436.5" y1="474.8" x2="436.5" y2="478.6" stroke="#222" stroke-width="1.3" />
<text x="436.5" y="493.3" font-size="13.8" text-anchor="middle" font-weight="normal" fill="#111" >0</text>
<line x1="453.65" y1="474.8" x2="453.65" y2="478.6" stroke="#222" stroke-width="1.3" />
<text x="453.65" y="493.3" font-size="13.8" text-anchor="middle" font-weight="normal" fill="#111" >1</text>
<line x1="470.8" y1="474.8" x2="470.8" y2="478.6" stroke="#222" stroke-width="1.3" />
<text x="470.8" y="493.3" font-size="13.8" text-anchor="middle" font-weight="normal" fill="#111" >2</text>
<line x1="487.95" y1="474.8" x2="487.95" y2="478.6" stroke="#222" stroke-width="1.3" />
<text x="487.95" y="493.3" font-size="13.8" text-anchor="middle" font-weight="normal" fill="#111" >3</text>
<line x1="505.1" y1="474.8" x2="505.1" y2="478.6" stroke="#222" stroke-width="1.3" />
<text x="505.1" y="493.3" font-size="13.8" text-anchor="middle" font-weight="normal" fill="#111" >4</text>
<line x1="522.25" y1="474.8" x2="522.25" y2="478.6" stroke="#222" stroke-width="1.3" />
<text x="522.25" y="493.3" font-size="13.8" text-anchor="middle" font-weight="normal" fill="#111" >5</text>
<line x1="539.4" y1="474.8" x2="539.4" y2="478.6" stroke="#222" stroke-width="1.3" />
<text x="539.4" y="493.3" font-size="13.8" text-anchor="middle" font-weight="normal" fill="#111" >6</text>
<line x1="556.55" y1="474.8" x2="556.55" y2="478.6" stroke="#222" stroke-width="1.3" />
<text x="556.55" y="493.3" font-size="13.8" text-anchor="middle" font-weight="normal" fill="#111" >7</text>
<line x1="573.7" y1="474.8" x2="573.7" y2="478.6" stroke="#222" stroke-width="1.3" />
<text x="573.7" y="493.3" font-size="13.8" text-anchor="middle" font-weight="normal" fill="#111" >8</text>
<line x1="590.85" y1="474.8" x2="590.85" y2="478.6" stroke="#222" stroke-width="1.3" />
<text x="590.85" y="493.3" font-size="13.8" text-anchor="middle" font-weight="normal" fill="#111" >9</text>
<line x1="608" y1="474.8" x2="608" y2="478.6" stroke="#222" stroke-width="1.3" />
<text x="608" y="493.3" font-size="13.8" text-anchor="middle" font-weight="normal" fill="#111" >10</text>
<line x1="625.15" y1="474.8" x2="625.15" y2="478.6" stroke="#222" stroke-width="1.3" />
<text x="625.15" y="493.3" font-size="13.8" text-anchor="middle" font-weight="normal" fill="#111" >11</text>
<line x1="642.3" y1="474.8" x2="642.3" y2="478.6" stroke="#222" stroke-width="1.3" />
<text x="642.3" y="493.3" font-size="13.8" text-anchor="middle" font-weight="normal" fill="#111" >12</text>
<line x1="659.45" y1="474.8" x2="659.45" y2="478.6" stroke="#222" stroke-width="1.3" />
<text x="659.45" y="493.3" font-size="13.8" text-anchor="middle" font-weight="normal" fill="#111" >13</text>
<line x1="676.6" y1="474.8" x2="676.6" y2="478.6" stroke="#222" stroke-width="1.3" />
<text x="676.6" y="493.3" font-size="13.8" text-anchor="middle" font-weight="normal" fill="#111" >14</text>
<line x1="427.93" y1="474.8" x2="427.93" y2="476.8" stroke="#222" stroke-width="1.3" />
<line x1="445.07" y1="474.8" x2="445.07" y2="476.8" stroke="#222" stroke-width="1.3" />
<line x1="462.23" y1="474.8" x2="462.23" y2="476.8" stroke="#222" stroke-width="1.3" />
<line x1="479.38" y1="474.8" x2="479.38" y2="476.8" stroke="#222" stroke-width="1.3" />
<line x1="496.52" y1="474.8" x2="496.52" y2="476.8" stroke="#222" stroke-width="1.3" />
<line x1="513.67" y1="474.8" x2="513.67" y2="476.8" stroke="#222" stroke-width="1.3" />
<line x1="530.83" y1="474.8" x2="530.83" y2="476.8" stroke="#222" stroke-width="1.3" />
<line x1="547.98" y1="474.8" x2="547.98" y2="476.8" stroke="#222" stroke-width="1.3" />
<line x1="565.12" y1="474.8" x2="565.12" y2="476.8" stroke="#222" stroke-width="1.3" />
<line x1="582.27" y1="474.8" x2="582.27" y2="476.8" stroke="#222" stroke-width="1.3" />
<line x1="599.42" y1="474.8" x2="599.42" y2="476.8" stroke="#222" stroke-width="1.3" />
<line x1="616.58" y1="474.8" x2="616.58" y2="476.8" stroke="#222" stroke-width="1.3" />
<line x1="633.73" y1="474.8" x2="633.73" y2="476.8" stroke="#222" stroke-width="1.3" />
<line x1="650.88" y1="474.8" x2="650.88" y2="476.8" stroke="#222" stroke-width="1.3" />
<line x1="668.02" y1="474.8" x2="668.02" y2="476.8" stroke="#222" stroke-width="1.3" />
<text x="549.2" y="514" font-size="17.2" text-anchor="middle" font-weight="normal" fill="#111" >Reaction time (hour)</text>
<text transform="translate(378.6,436.2) rotate(-90)" font-size="17.1" text-anchor="start" font-weight="normal" fill="#111">H<tspan font-size="11.12" dy="3.76">2</tspan><tspan dy="-3.76"> evolution (μmol)</tspan></text>
<text x="356.5" y="279.6" font-size="24" text-anchor="start" font-weight="normal" fill="#111" >d</text>
<line x1="436.5" y1="444.38" x2="436.5" y2="448.8" stroke="#c9d6e5" stroke-width="1" />
<line x1="434.5" y1="444.38" x2="438.5" y2="444.38" stroke="#c9d6e5" stroke-width="1" />
<rect x="434.35" y="448.8" width="4.3" height="26" fill="#2a5580"/>
<line x1="445.07" y1="402.31" x2="445.07" y2="409.8" stroke="#c9d6e5" stroke-width="1" />
<line x1="443.07" y1="402.31" x2="447.07" y2="402.31" stroke="#c9d6e5" stroke-width="1" />
<rect x="442.93" y="409.8" width="4.3" height="65" fill="#2a5580"/>
<line x1="453.65" y1="366.48" x2="453.65" y2="376" stroke="#c9d6e5" stroke-width="1" />
<line x1="451.65" y1="366.48" x2="455.65" y2="366.48" stroke="#c9d6e5" stroke-width="1" />
<rect x="451.5" y="376" width="4.3" height="98.8" fill="#2a5580"/>
<line x1="462.23" y1="327.12" x2="462.23" y2="339.6" stroke="#c9d6e5" stroke-width="1" />
<line x1="460.23" y1="327.12" x2="464.23" y2="327.12" stroke="#c9d6e5" stroke-width="1" />
<rect x="460.08" y="339.6" width="4.3" height="135.2" fill="#2a5580"/>
<line x1="470.8" y1="290.51" x2="470.8" y2="305.8" stroke="#c9d6e5" stroke-width="1" />
<line x1="468.8" y1="290.51" x2="472.8" y2="290.51" stroke="#c9d6e5" stroke-width="1" />
<rect x="468.65" y="305.8" width="4.3" height="169" fill="#2a5580"/>
<line x1="483.66" y1="446.3" x2="483.66" y2="450.88" stroke="#c9d6e5" stroke-width="1" />
<line x1="481.66" y1="446.3" x2="485.66" y2="446.3" stroke="#c9d6e5" stroke-width="1" />
<rect x="481.51" y="450.88" width="4.3" height="23.92" fill="#2a5580"/>
<line x1="492.24" y1="404.29" x2="492.24" y2="413.96" stroke="#c9d6e5" stroke-width="1" />
<line x1="490.24" y1="404.29" x2="494.24" y2="404.29" stroke="#c9d6e5" stroke-width="1" />
<rect x="490.09" y="413.96" width="4.3" height="60.84" fill="#2a5580"/>
<line x1="500.81" y1="366.64" x2="500.81" y2="379.12" stroke="#c9d6e5" stroke-width="1" />
<line x1="498.81" y1="366.64" x2="502.81" y2="366.64" stroke="#c9d6e5" stroke-width="1" />
<rect x="498.66" y="379.12" width="4.3" height="95.68" fill="#2a5580"/>
<line x1="509.39" y1="328.32" x2="509.39" y2="344.8" stroke="#c9d6e5" stroke-width="1" />
<line x1="507.39" y1="328.32" x2="511.39" y2="328.32" stroke="#c9d6e5" stroke-width="1" />
<rect x="507.24" y="344.8" width="4.3" height="130" fill="#2a5580"/>
<line x1="517.96" y1="297.38" x2="517.96" y2="313.08" stroke="#c9d6e5" stroke-width="1" />
<line x1="515.96" y1="297.38" x2="519.96" y2="297.38" stroke="#c9d6e5" stroke-width="1" />
<rect x="515.81" y="313.08" width="4.3" height="161.72" fill="#2a5580"/>
<line x1="530.83" y1="437.36" x2="530.83" y2="441.52" stroke="#c9d6e5" stroke-width="1" />
<line x1="528.83" y1="437.36" x2="532.83" y2="437.36" stroke="#c9d6e5" stroke-width="1" />
<rect x="528.68" y="441.52" width="4.3" height="33.28" fill="#2a5580"/>
<line x1="539.4" y1="394.2" x2="539.4" y2="403.04" stroke="#c9d6e5" stroke-width="1" />
<line x1="537.4" y1="394.2" x2="541.4" y2="394.2" stroke="#c9d6e5" stroke-width="1" />
<rect x="537.25" y="403.04" width="4.3" height="71.76" fill="#2a5580"/>
<line x1="547.98" y1="356.4" x2="547.98" y2="368.2" stroke="#c9d6e5" stroke-width="1" />
<line x1="545.98" y1="356.4" x2="549.98" y2="356.4" stroke="#c9d6e5" stroke-width="1" />
<rect x="545.83" y="368.2" width="4.3" height="106.6" fill="#2a5580"/>
<line x1="556.55" y1="320.2" x2="556.55" y2="332.32" stroke="#c9d6e5" stroke-width="1" />
<line x1="554.55" y1="320.2" x2="558.55" y2="320.2" stroke="#c9d6e5" stroke-width="1" />
<rect x="554.4" y="332.32" width="4.3" height="142.48" fill="#2a5580"/>
<line x1="565.12" y1="285.1" x2="565.12" y2="299.04" stroke="#c9d6e5" stroke-width="1" />
<line x1="563.12" y1="285.1" x2="567.12" y2="285.1" stroke="#c9d6e5" stroke-width="1" />
<rect x="562.98" y="299.04" width="4.3" height="175.76" fill="#2a5580"/>
<line x1="577.99" y1="448.28" x2="577.99" y2="451.92" stroke="#c9d6e5" stroke-width="1" />
<line x1="575.99" y1="448.28" x2="579.99" y2="448.28" stroke="#c9d6e5" stroke-width="1" />
<rect x="575.84" y="451.92" width="4.3" height="22.88" fill="#2a5580"/>
<line x1="586.56" y1="406.89" x2="586.56" y2="412.92" stroke="#c9d6e5" stroke-width="1" />
<line x1="584.56" y1="406.89" x2="588.56" y2="406.89" stroke="#c9d6e5" stroke-width="1" />
<rect x="584.41" y="412.92" width="4.3" height="61.88" fill="#2a5580"/>
<line x1="595.14" y1="369.76" x2="595.14" y2="377.56" stroke="#c9d6e5" stroke-width="1" />
<line x1="593.14" y1="369.76" x2="597.14" y2="369.76" stroke="#c9d6e5" stroke-width="1" />
<rect x="592.99" y="377.56" width="4.3" height="97.24" fill="#2a5580"/>
<line x1="603.71" y1="330.24" x2="603.71" y2="342.72" stroke="#c9d6e5" stroke-width="1" />
<line x1="601.71" y1="330.24" x2="605.71" y2="330.24" stroke="#c9d6e5" stroke-width="1" />
<rect x="601.56" y="342.72" width="4.3" height="132.08" fill="#2a5580"/>
<line x1="612.29" y1="291.29" x2="612.29" y2="307.88" stroke="#c9d6e5" stroke-width="1" />
<line x1="610.29" y1="291.29" x2="614.29" y2="291.29" stroke="#c9d6e5" stroke-width="1" />
<rect x="610.14" y="307.88" width="4.3" height="166.92" fill="#2a5580"/>
<line x1="625.15" y1="451.19" x2="625.15" y2="457.12" stroke="#c9d6e5" stroke-width="1" />
<line x1="623.15" y1="451.19" x2="627.15" y2="451.19" stroke="#c9d6e5" stroke-width="1" />
<rect x="623" y="457.12" width="4.3" height="17.68" fill="#2a5580"/>
<line x1="633.73" y1="406.89" x2="633.73" y2="415" stroke="#c9d6e5" stroke-width="1" />
<line x1="631.73" y1="406.89" x2="635.73" y2="406.89" stroke="#c9d6e5" stroke-width="1" />
<rect x="631.58" y="415" width="4.3" height="59.8" fill="#2a5580"/>
<line x1="642.3" y1="373.5" x2="642.3" y2="383.8" stroke="#c9d6e5" stroke-width="1" />
<line x1="640.3" y1="373.5" x2="644.3" y2="373.5" stroke="#c9d6e5" stroke-width="1" />
<rect x="640.15" y="383.8" width="4.3" height="91" fill="#2a5580"/>
<line x1="650.88" y1="334.3" x2="650.88" y2="347.4" stroke="#c9d6e5" stroke-width="1" />
<line x1="648.88" y1="334.3" x2="652.88" y2="334.3" stroke="#c9d6e5" stroke-width="1" />
<rect x="648.73" y="347.4" width="4.3" height="127.4" fill="#2a5580"/>
<line x1="659.45" y1="301.22" x2="659.45" y2="313.08" stroke="#c9d6e5" stroke-width="1" />
<line x1="657.45" y1="301.22" x2="661.45" y2="301.22" stroke="#c9d6e5" stroke-width="1" />
<rect x="657.3" y="313.08" width="4.3" height="161.72" fill="#2a5580"/>
<text x="457.3" y="288.4" font-size="12.4" text-anchor="middle" font-weight="normal" fill="#111" >1st</text>
<text x="514.7" y="286.7" font-size="12.4" text-anchor="middle" font-weight="normal" fill="#111" >2nd</text>
<text x="563.4" y="284.2" font-size="12.4" text-anchor="middle" font-weight="normal" fill="#111" >3rd</text>
<text x="613.3" y="288" font-size="12.4" text-anchor="middle" font-weight="normal" fill="#111" >4th</text>
<text x="657.9" y="288.1" font-size="12.4" text-anchor="middle" font-weight="normal" fill="#111" >5th</text>
</svg></body></html>
